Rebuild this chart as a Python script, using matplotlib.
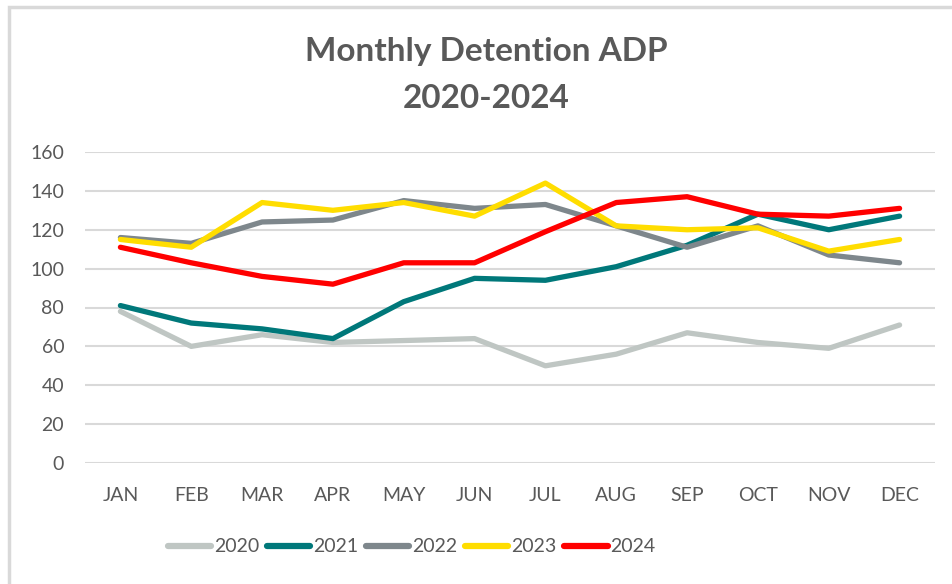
import matplotlib.pyplot as plt
from matplotlib.lines import Line2D
from matplotlib.patches import Rectangle

months = ["JAN", "FEB", "MAR", "APR", "MAY", "JUN",
          "JUL", "AUG", "SEP", "OCT", "NOV", "DEC"]
years = ["2020", "2021", "2022", "2023", "2024"]

adp_2020 = [78, 60, 66, 62, 63, 64, 50, 56, 67, 62, 59, 71]
adp_2021 = [81, 72, 69, 64, 83, 95, 94, 101, 112, 128, 120, 127]
adp_2022 = [116, 113, 124, 125, 135, 131, 133, 122, 111, 122, 107, 103]
adp_2023 = [115, 111, 134, 130, 134, 127, 144, 122, 120, 121, 109, 115]
adp_2024 = [111, 103, 96, 92, 103, 103, 119, 134, 137, 128, 127, 131]

series = [adp_2020, adp_2021, adp_2022, adp_2023, adp_2024]
colors = ["#BFC6C3", "#00787A", "#7E878C", "#FFDD00", "#FF0000"]

plt.rcParams["font.family"] = ["Lato", "DejaVu Sans"]
text_color = "#595959"

fig = plt.figure(figsize=(9.52, 5.84), dpi=100)
ax = fig.add_axes([85 / 952, 1 - 463 / 584, 850 / 952, 311 / 584])

# chart frame (only top and left edges fall inside the image)
fig.patches.append(Rectangle((9 / 952, -0.05), 1.2, 1 - 7 / 584 + 0.05,
                             transform=fig.transFigure, fill=False,
                             edgecolor="#D9D9D9", linewidth=2.5, zorder=0))

x = range(len(months))
for vals, col, yr in zip(series, colors, years):
    ax.plot(x, vals, color=col, linewidth=3.8, solid_capstyle="round",
            solid_joinstyle="round", label=yr, zorder=3)

ax.set_xlim(-0.5, 11.5)
ax.set_ylim(0, 160)
ax.set_yticks(range(0, 161, 20))
ax.set_xticks(list(x), months)
ax.grid(axis="y", color="#D9D9D9", linewidth=1.5)
ax.set_axisbelow(True)
for s in ax.spines.values():
    s.set_visible(False)
ax.tick_params(axis="both", length=0, labelsize=14, colors=text_color)
ax.tick_params(axis="y", pad=15)
ax.tick_params(axis="x", pad=17)

fig.text(0.511, 1 - 51 / 584, "Monthly Detention ADP", ha="center", va="center",
         fontsize=24, fontweight="bold", color=text_color)
fig.text(0.511, 1 - 98 / 584, "2020-2024", ha="center", va="center",
         fontsize=24, fontweight="bold", color=text_color)

handles = [Line2D([], [], color=c, linewidth=4.5, solid_capstyle="round")
           for c in colors]
fig.legend(handles, years, loc="center", bbox_to_anchor=(0.432, 1 - 547 / 584),
           ncol=5, frameon=False, fontsize=14, labelcolor=text_color,
           handlelength=2.25, handletextpad=0.12, columnspacing=0.4)

fig.savefig("out.png", dpi=100, facecolor="white")
